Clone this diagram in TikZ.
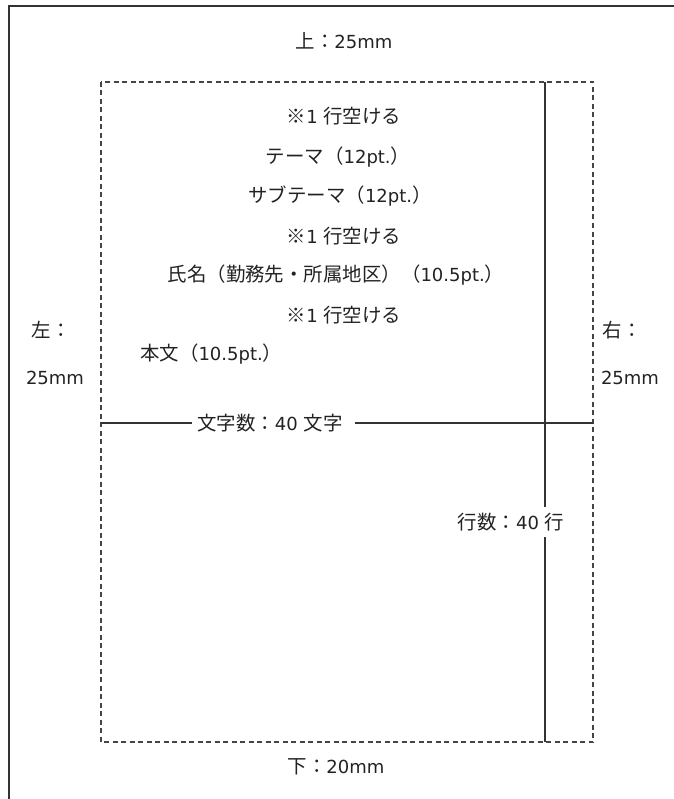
\documentclass[tikz,border=0pt]{standalone}
\usepackage{fontspec}
\setmainfont{DejaVu Sans}
\newfontfamily\jp[Scale=1.08]{Noto Sans CJK JP}
\newcommand\jt[1]{{\jp #1}}
\definecolor{ink}{HTML}{222222}
\definecolor{rule}{HTML}{333333}
\definecolor{dashc}{HTML}{444444}
\begin{document}
\begin{tikzpicture}[x=1pt,y=-1pt,
  txt/.style={text=ink,font=\fontsize{18}{20}\selectfont,inner sep=0pt},
  gaptxt/.style={txt,fill=white,inner ysep=6pt},
  frame/.style={draw=rule,line width=2pt},
  dash box/.style={draw=dashc,line width=1.3pt,dash pattern=on 5pt off 3.5pt},
  measure/.style={draw=rule,line width=1.2pt}]
\useasboundingbox (0,0) rectangle (673,799);
% outer sheet (extends beyond the picture)
\draw[frame] (9,810) -- (9,6) -- (690,6);
% text area
\coordinate (tl) at (101,82);
\coordinate (br) at (593,742);
\draw[dash box] (tl) rectangle (br);
\coordinate (vt) at (545,82);
\coordinate (vb) at (545,742);
\coordinate (hl) at (101,423);
\coordinate (hr) at (593,423);
\draw[measure] (vt) -- (vb);
\draw[measure] (hl) -- (hr);
\node[gaptxt,inner xsep=0pt,anchor=west] (cols) at (192,423) {\rule{5pt}{0pt}\jt{文字数：}40 \jt{文字}\rule{13pt}{0pt}};
\node[gaptxt,inner xsep=0pt] (rows) at (511,522) {\jt{行数：}40 \jt{行}};
% margins
\node[txt] (top) at (344,41) {\jt{上：}25mm};
\node[txt] (bottom) at (336,767) {\jt{下：}20mm};
\node[txt] (left1) at (51,330) {\jt{左：}};
\node[txt] (left2) at (55,378) {25mm};
\node[txt] (right1) at (622,330) {\jt{右：}};
\node[txt] (right2) at (630,378) {25mm};
% contents
\node[txt] (l1) at (344,116) {\jt{※}1 \jt{行空ける}};
\node[txt] (l2) at (338,157) {\jt{テーマ（}12pt.\jt{）}};
\node[txt] (l3) at (340,196) {\jt{サブテーマ（}12pt.\jt{）}};
\node[txt] (l4) at (344,236) {\jt{※}1 \jt{行空ける}};
\node[txt] (l5) at (336,275) {\jt{氏名（勤務先・所属地区）（}10.5pt.\jt{）}};
\node[txt] (l6) at (344,315) {\jt{※}1 \jt{行空ける}};
\node[txt,anchor=west] (l7) at (140,354) {\jt{本文（}10.5pt.\jt{）}};
\end{tikzpicture}
\end{document}
